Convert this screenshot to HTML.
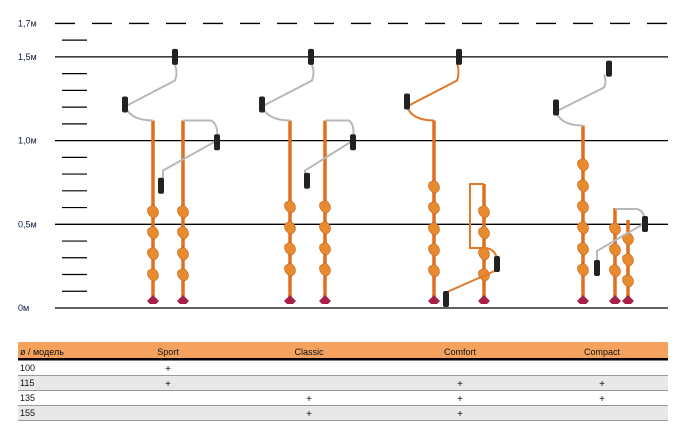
<!DOCTYPE html>
<html><head><meta charset="utf-8"><style>
html,body{margin:0;padding:0;background:#fff;width:686px;height:438px;overflow:hidden}
svg{display:block}
text{font-family:"Liberation Sans Narrow","Liberation Sans",sans-serif}
</style></head><body>
<svg id="c" width="686" height="438"></svg>
<script>
const heightTicks=[0,0.5,1.0,1.5];
const heightTickLabels=["0м","0,5м","1,0м","1,5м"];
const dashedLevel=1.7;
const dashedLabel="1,7м";
const minorTicks=[0.1,0.2,0.3,0.4,0.6,0.7,0.8,0.9,1.1,1.2,1.3,1.4,1.6];
const models=["Sport","Classic","Comfort","Compact"];
const diameters=["100","115","135","155"];
const availability=[[1,0,0,0],[1,0,1,1],[0,1,1,1],[0,1,1,0]];
const assembledHeight=[1.12,1.12,1.12,1.09];
const gripHeight=[1.5,1.5,1.5,1.43];

const S="http://www.w3.org/2000/svg";
const svg=document.getElementById('c');
function y(v){return 308-v*167.4;}
function el(t,a,p){const e=document.createElementNS(S,t);for(const k in a)e.setAttribute(k,a[k]);(p||svg).appendChild(e);return e;}
heightTicks.forEach((v,i)=>{
  const l=el('line',{x1:55,x2:668,y1:y(v),y2:y(v),stroke:'#000','stroke-width':1.3});
  
  
  const t=el('text',{x:18,y:y(v)+3,'font-size':9,fill:'#0a1a3a'});t.textContent=heightTickLabels[i];
  
  
});
const dl=el('line',{x1:55,x2:668,y1:y(dashedLevel),y2:y(dashedLevel),stroke:'#000','stroke-width':1.3,'stroke-dasharray':'20 17'});


const dt=el('text',{x:18,y:y(dashedLevel)+3,'font-size':9,fill:'#0a1a3a'});dt.textContent=dashedLabel;


minorTicks.forEach(v=>{
  const l=el('line',{x1:62,x2:87,y1:y(v),y2:y(v),stroke:'#000','stroke-width':1.2});
  
  
});
function rod(x,top,bot,spTop){
  const g=el('g',{});
  
  
  el('line',{x1:x,x2:x,y1:top,y2:bot,stroke:'#e0701e','stroke-width':3.5},g);
  for(let yy=spTop;yy<bot-20;yy+=21){
    el('path',{d:`M${x} ${yy} q7 4 5 10 q-3 4 -5 3 q-7 -4 -5 -10 z`,fill:'#e88a2e',stroke:'#c45a14','stroke-width':0.6},g);
  }
  el('path',{d:`M${x-6} ${bot-3} l6 -6 l6 6 l-3 3 l-6 0 z`,fill:'#a8204a'},g);
  return g;
}
function grip(x,yy){const r=el('rect',{x:x-3,y:yy-8,width:6,height:16,rx:2,fill:'#222'});
  }
function handle(d,c){const p=el('path',{d:d,fill:'none',stroke:c||'#b8b8b8','stroke-width':2});
  }
const X=[153,290,434,583];
let t=y(assembledHeight[0]),g=y(gripHeight[0]);
rod(X[0],t,304,205);rod(X[0]+30,t,304,205);
handle(`M${X[0]} ${t} q-22 0 -28 -14 l50 -26 q3 -8 0 -${t-g-48}`);grip(X[0]-28,t-16);grip(X[0]+22,g);
handle(`M${X[0]+30} ${t} l28 0 q8 4 6 20 l-54 30 l0 16`);grip(X[0]+64,y(0.99));grip(X[0]+8,y(0.73));
t=y(assembledHeight[1]);g=y(gripHeight[1]);
rod(X[1],t,304,200);rod(X[1]+35,t,304,200);
handle(`M${X[1]} ${t} q-22 0 -28 -14 l50 -26 q3 -8 0 -${t-g-48}`);grip(X[1]-28,t-16);grip(X[1]+21,g);
handle(`M${X[1]+35} ${t} l24 0 q6 4 4 20 l-48 30 l0 12`);grip(X[1]+63,y(0.99));grip(X[1]+17,y(0.76));
t=y(assembledHeight[2]);g=y(gripHeight[2]);
rod(X[2],t,304,180);
handle(`M${X[2]} ${t} q-22 0 -27 -14 l50 -26 q3 -8 0 -${t-g-46}`,'#e07a2a');grip(X[2]-27,t-19);grip(X[2]+25,g);
rod(X[2]+50,184,304,205);
handle(`M${X[2]+50} 184 l-14 0 l0 64 l14 0 q10 0 13 10`,'#e07a2a');
handle(`M${X[2]+63} 270 l-50 22`,'#e07a2a');
grip(X[2]+63,264);grip(X[2]+12,299);
t=y(assembledHeight[3]);g=y(gripHeight[3]);
rod(X[3],t,304,158);
handle(`M${X[3]} ${t} q-22 0 -27 -14 l48 -24 q3 -6 0 -${t-g-44}`);grip(X[3]-27,t-18);grip(X[3]+26,g);
rod(X[3]+32,208,304,222);rod(X[3]+45,220,304,232);
handle(`M${X[3]+32} 209 l22 0 q8 2 8 14 l-48 28 l0 10`);
grip(X[3]+62,224);grip(X[3]+14,268);
const tbl=el('g',{});
el('rect',{x:18,y:342,width:650,height:17,fill:'#f4a25e'},tbl);
el('rect',{x:18,y:358,width:650,height:2.5,fill:'#000'},tbl);
const hx=[168,309,460,602];
let ht=el('text',{x:20,y:355,'font-size':9,fill:'#111'},tbl);ht.textContent='ø / модель';

models.forEach((m,i)=>{const tx=el('text',{x:hx[i],y:355,'font-size':9,'text-anchor':'middle',fill:'#111'},tbl);tx.textContent=m;
  });
diameters.forEach((d,r)=>{
  const top=361+r*15;
  if(r%2==1)el('rect',{x:18,y:top,width:650,height:14,fill:'#e8e8e8'},tbl);
  el('line',{x1:18,x2:668,y1:top+14.5,y2:top+14.5,stroke:'#999','stroke-width':1},tbl);
  const tx=el('text',{x:20,y:top+10,'font-size':9,fill:'#111'},tbl);tx.textContent=d;
  
  availability[r].forEach((a,c)=>{if(a){const p=el('text',{x:hx[c],y:top+11,'font-size':10,'text-anchor':'middle',fill:'#111'},tbl);p.textContent='+';
    }});
});
</script>
</body></html>
